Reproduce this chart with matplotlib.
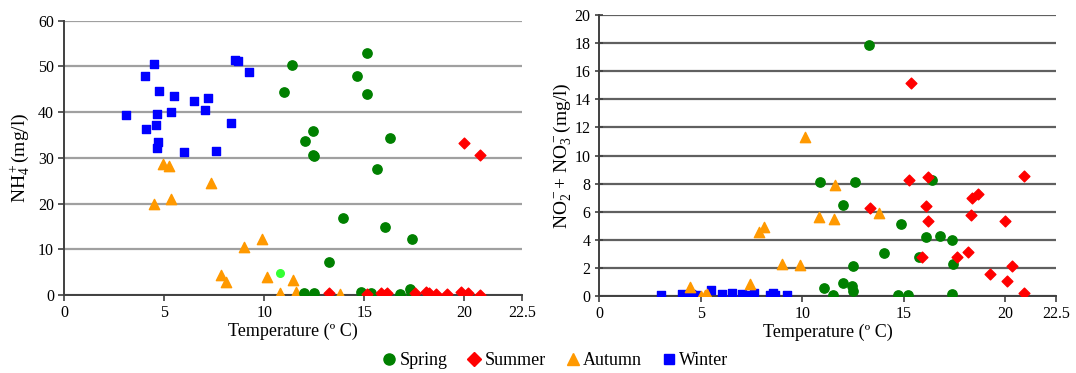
import matplotlib
matplotlib.use("Agg")
import matplotlib.pyplot as plt

plt.rcParams["font.family"] = ["Liberation Serif", "DejaVu Serif"]
plt.rcParams["mathtext.fontset"] = "custom"
plt.rcParams["mathtext.rm"] = "Liberation Serif"
plt.rcParams["mathtext.it"] = "Liberation Serif:italic"

# ---- left panel: NH4+ vs temperature ----
winter_t1 = [3.07, 4.03, 4.47, 4.10, 4.57, 4.62, 4.74, 4.69, 4.62, 5.34,
             5.48, 5.97, 6.50, 7.03, 7.21, 7.57, 8.36, 8.53, 8.67, 9.26]
winter_nh4 = [39.3, 47.9, 50.6, 36.4, 37.2, 39.5, 44.7, 33.5, 32.1, 40.1,
              43.5, 31.3, 42.4, 40.5, 43.2, 31.6, 37.6, 51.4, 51.1, 48.7]

autumn_t1 = [4.48, 4.95, 5.21, 5.33, 7.36, 7.84, 8.07, 8.98, 9.90, 10.12,
             10.79, 11.43, 11.57, 13.79]
autumn_nh4 = [20.0, 28.7, 28.3, 21.0, 24.6, 4.3, 2.8, 10.4, 12.3, 3.9,
              0.4, 3.3, 0.7, 0.2]

spring_t1 = [11.41, 11.00, 15.16, 14.66, 15.16, 12.43, 12.02, 12.45, 12.50,
             16.29, 15.64, 13.93, 16.05, 17.38, 13.22, 11.97, 12.50, 14.84,
             15.33, 16.78, 17.29, 17.36]
spring_nh4 = [50.3, 44.5, 52.9, 47.9, 44.0, 35.8, 33.7, 30.7, 30.3,
              34.3, 27.6, 16.9, 14.9, 12.2, 7.2, 0.4, 0.4, 0.6,
              0.4, 0.15, 1.4, 0.6]

summer_t1 = [19.98, 20.81, 13.26, 15.14, 15.83, 16.05, 16.16, 17.53, 18.10,
             18.24, 18.59, 19.14, 19.84, 20.21, 20.81]
summer_nh4 = [33.3, 30.7, 0.35, 0.15, 0.35, 0.1, 0.35, 0.35, 0.7,
              0.35, 0.15, 0.15, 0.55, 0.35, 0.05]

odd_t1 = [10.81]
odd_nh4 = [4.9]

# ---- right panel: NO2- + NO3- vs temperature ----
winter_t2 = [3.04, 4.05, 4.50, 4.59, 4.76, 5.52, 6.03, 6.54, 7.04, 7.30,
             7.60, 8.40, 8.55, 8.65, 9.24]
winter_no = [0.05, 0.15, 0.12, 0.05, 0.1, 0.4, 0.15, 0.25, 0.15, 0.05,
             0.25, 0.05, 0.2, 0.1, 0.05]

autumn_t2 = [4.48, 5.02, 5.21, 5.32, 7.40, 7.89, 8.13, 9.02, 9.90, 10.14,
             10.84, 11.55, 11.62, 13.80]
autumn_no = [0.62, 0.02, 0.05, 0.14, 0.85, 4.57, 4.88, 2.27, 2.22, 11.31,
             5.63, 5.51, 7.88, 5.94]

spring_t2 = [13.29, 10.88, 12.58, 16.39, 11.99, 14.88, 16.08, 16.79, 17.40,
             14.02, 15.73, 17.45, 12.52, 11.05, 12.03, 12.45, 12.50, 11.52,
             14.73, 15.20, 17.40]
spring_no = [17.89, 8.09, 8.09, 8.26, 6.49, 5.11, 4.17, 4.24, 4.0,
             3.05, 2.79, 2.27, 2.11, 0.57, 0.9, 0.73, 0.38, 0.07,
             0.07, 0.07, 0.14]

summer_t2 = [15.37, 15.24, 16.17, 20.91, 18.67, 18.36, 13.33, 16.11, 16.17,
             18.31, 19.98, 15.88, 17.60, 18.18, 20.32, 19.26, 20.07, 20.91]
summer_no = [15.17, 8.28, 8.47, 8.57, 7.24, 6.96, 6.27, 6.44, 5.35,
             5.75, 5.35, 2.75, 2.75, 3.10, 2.15, 1.56, 1.04, 0.21]

green = "#008000"
red = "#FF0000"
orange = "#FF9900"
blue = "#0000FF"

fig = plt.figure(figsize=(10.76, 3.73), dpi=100)
ax1 = fig.add_axes([0.0598, 0.2091, 0.4251, 0.7354])
ax2 = fig.add_axes([0.557, 0.2064, 0.4244, 0.7534])


def style(ax, grid_color):
    ax.set_axisbelow(True)
    ax.yaxis.grid(True, color=grid_color, linewidth=1.6)
    for s in ["top", "right"]:
        ax.spines[s].set_visible(False)
    for s in ["left", "bottom"]:
        ax.spines[s].set_color("#404040")
        ax.spines[s].set_linewidth(1.4)
    ax.tick_params(axis="both", labelsize=11.5, color="#404040", length=4, width=1.2)
    ax.set_xlabel("Temperature (º C)", fontsize=13, labelpad=1)


# left
ax1.scatter(winter_t1, winter_nh4, marker="s", s=40, color=blue, zorder=3)
ax1.scatter(autumn_t1, autumn_nh4, marker="^", s=55, color=orange, zorder=3)
ax1.scatter(spring_t1, spring_nh4, marker="o", s=45, color=green, zorder=3)
ax1.scatter(summer_t1, summer_nh4, marker="D", s=30, color=red, zorder=3)
ax1.scatter(odd_t1, odd_nh4, marker="o", s=30, color="#33FF33", zorder=3)
ax1.set_xlim(0, 22.88)
ax1.set_ylim(0, 60)
ax1.set_xticks([0, 5, 10, 15, 20, 22.88])
ax1.set_xticklabels(["0", "5", "10", "15", "20", "22.5"])
ax1.set_yticks(range(0, 61, 10))
style(ax1, "#A0A0A0")
ax1.set_ylabel(r"$\mathrm{NH}_4^+$(mg/l)", fontsize=14, labelpad=4)

# right
ax2.scatter(winter_t2, winter_no, marker="s", s=40, color=blue, zorder=3)
ax2.scatter(autumn_t2, autumn_no, marker="^", s=55, color=orange, zorder=3)
ax2.scatter(spring_t2, spring_no, marker="o", s=45, color=green, zorder=3)
ax2.scatter(summer_t2, summer_no, marker="D", s=30, color=red, zorder=3)
ax2.set_xlim(0, 22.5)
ax2.set_ylim(0, 20)
ax2.set_xticks([0, 5, 10, 15, 20, 22.5])
ax2.set_xticklabels(["0", "5", "10", "15", "20", "22.5"])
ax2.set_yticks(range(0, 21, 2))
style(ax2, "#606060")
ax2.tick_params(axis="y", direction="inout", length=6)
ax2.set_ylabel(r"$\mathrm{NO}_2^-$+ $\mathrm{NO}_3^-$(mg/l)", fontsize=14, labelpad=1)

# legend
handles = [
    plt.Line2D([], [], marker="o", linestyle="", color=green, markersize=8),
    plt.Line2D([], [], marker="D", linestyle="", color=red, markersize=7),
    plt.Line2D([], [], marker="^", linestyle="", color=orange, markersize=9),
    plt.Line2D([], [], marker="s", linestyle="", color=blue, markersize=7),
]
fig.legend(handles, ["Spring", "Summer", "Autumn", "Winter"], loc="center",
           bbox_to_anchor=(0.515, 0.033), ncol=4, frameon=False, fontsize=13,
           handletextpad=0.05, columnspacing=1.0, handlelength=1.0)

fig.savefig("out.png", dpi=100)
